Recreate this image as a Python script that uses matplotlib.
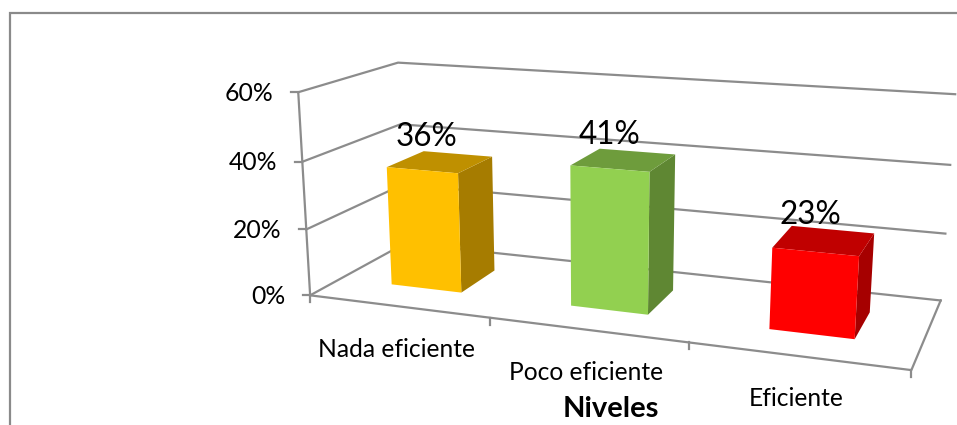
import matplotlib
matplotlib.use('Agg')
import matplotlib.pyplot as plt
import numpy as np

plt.rcParams['font.family'] = ['Lato', 'DejaVu Sans']

# data
categories = ['Nada eficiente', 'Poco eficiente', 'Eficiente']
values = [0.36, 0.41, 0.23]
value_labels = ['36%', '41%', '23%']
y_ticks = [0.0, 0.2, 0.4, 0.6]
y_labels = ['0%', '20%', '40%', '60%']
axis_title = 'Niveles'

# colours: front, top, side
front_colors = ['#FFC000', '#92D050', '#FF0000']
top_colors = ['#BF9000', '#6E9C3C', '#C00000']
side_colors = ['#A67C00', '#5F8733', '#A60000']
GREY = '#8C8C8C'

# camera calibration: (category, depth, height) -> pixel
frame_box = [(0, 0, 0), (1, 0, 0), (2, 0, 0), (3, 0, 0), (3, 1, 0), (0, 0, 0.6),
             (0, 1, 0.6), (3, 1, 0.6), (0, 1, 0.4), (3, 1, 0.4), (3, 1, 0.2)]
frame_pix = [(311, 295), (490, 318), (689, 343), (911, 371), (941, 299), (298, 91),
             (400, 62), (955, 95), (398, 126), (950, 165), (946, 233)]


def fit_camera(box, pix):
    rows, rhs = [], []
    for (x, d, z), (u, v) in zip(box, pix):
        rows.append([x, d, z, 1, 0, 0, 0, 0, -u * x, -u * d, -u * z])
        rows.append([0, 0, 0, 0, x, d, z, 1, -v * x, -v * d, -v * z])
        rhs += [u, v]
    p = np.linalg.lstsq(np.array(rows, float), np.array(rhs, float), rcond=None)[0]
    return np.append(p, 1).reshape(3, 4)


CAM = fit_camera(frame_box, frame_pix)


def proj(x, d, z):
    u, v, w = CAM @ np.array([x, d, z, 1.0])
    return u / w, v / w


fig = plt.figure(figsize=(9.57, 4.25), dpi=100)
ax = fig.add_axes([0, 0, 1, 1])
ax.set_xlim(0, 957)
ax.set_ylim(425, 0)
ax.axis('off')

# outer chart border
ax.plot([10, 10, 957], [425, 13, 13], color='#8A8A8A', lw=1.6, solid_joinstyle='miter')

# walls, floor and gridlines
for t in y_ticks:
    a, b, c = proj(0, 0, t), proj(0, 1, t), proj(3, 1, t)
    ax.plot([a[0], b[0], c[0]], [a[1], b[1], c[1]], color=GREY, lw=1.6)
    ax.plot([a[0] - 7, a[0]], [a[1], a[1]], color=GREY, lw=1.6)
    ax.text(a[0] - 25, a[1] + 1, y_labels[y_ticks.index(t)], ha='right', va='center', fontsize=17.8, color='black')

a, b = proj(0, 0, 0), proj(0, 0, 0.6)
ax.plot([a[0], b[0]], [a[1], b[1]], color=GREY, lw=1.6)
pts = [proj(0, 0, 0), proj(3, 0, 0), proj(3, 1, 0)]
ax.plot([p[0] for p in pts], [p[1] for p in pts], color=GREY, lw=1.6)
for i in range(4):
    p = proj(i, 0, 0)
    ax.plot([p[0], p[0]], [p[1], p[1] + 7], color=GREY, lw=1.6)

# bars
BAR_W = 0.4
D0, D1 = 0.3, 0.7
for i, val in enumerate(values):
    x0, x1 = i + 0.5 - BAR_W / 2, i + 0.5 + BAR_W / 2
    front = [proj(x0, D0, 0), proj(x1, D0, 0), proj(x1, D0, val), proj(x0, D0, val)]
    top = [proj(x0, D0, val), proj(x1, D0, val), proj(x1, D1, val), proj(x0, D1, val)]
    side = [proj(x1, D0, 0), proj(x1, D1, 0), proj(x1, D1, val), proj(x1, D0, val)]
    ax.fill(*zip(*side), color=side_colors[i], lw=0, zorder=3)
    ax.fill(*zip(*top), color=top_colors[i], lw=0, zorder=3)
    ax.fill(*zip(*front), color=front_colors[i], lw=0, zorder=4)
    cx, cy = proj(i + 0.5, 0.5, val)
    ax.text(cx - 14, cy - 25, value_labels[i], ha='center', va='center', fontsize=22.7, color='black', zorder=5)
    lx, ly = proj(i + 0.5, 0, 0)
    ax.text(lx - 1, ly + 43, categories[i], ha='center', va='center', fontsize=17.7, color='black')

ax.text(611, 409, axis_title, ha='center', va='center', fontsize=21, fontweight='bold', color='black')

plt.savefig('out.png', dpi=100)
